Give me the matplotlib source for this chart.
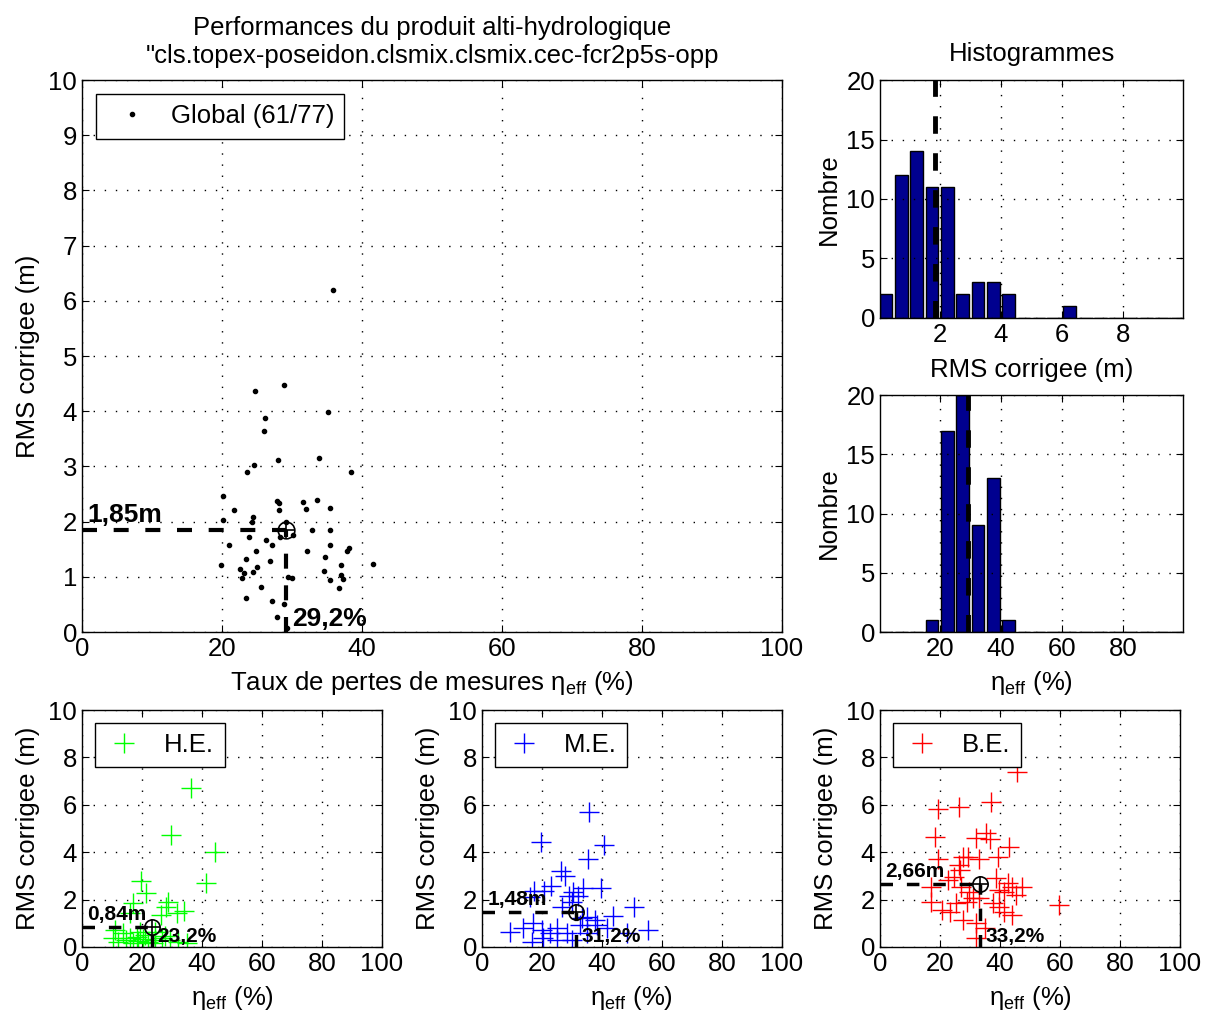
import numpy as np
import matplotlib
matplotlib.use("Agg")
import matplotlib.pyplot as plt

plt.rcParams['font.family'] = ['Liberation Sans', 'DejaVu Sans']
plt.rcParams['font.size'] = 18.5
plt.rcParams['mathtext.fontset'] = 'custom'
plt.rcParams['mathtext.rm'] = 'Liberation Sans'
plt.rcParams['mathtext.it'] = 'Liberation Sans:italic'

# Donnees globales (eta_eff en %, RMS corrigee en m)
glob_eta = [28.8, 24.7, 35.2, 26.2, 26.0, 33.9, 28.0, 24.6, 23.5, 38.4,
            20.1, 33.5, 27.9, 28.1, 31.5, 35.4, 21.7, 32.0, 28.2, 24.4,
            20.1, 24.3, 29.1, 30.2, 23.8, 32.9, 35.4, 28.3, 26.3, 21.0,
            27.1, 35.4, 24.9, 32.2, 38.1, 37.8, 34.7, 23.4, 26.8, 41.6,
            19.9, 37.0, 22.5, 25.0, 23.2, 24.4, 22.8, 34.5, 29.4, 30.0,
            37.0, 37.3, 35.4, 25.5, 36.7, 23.4, 27.1, 28.9, 27.8, 35.9,
            29.3]
glob_rms = [4.48, 4.36, 3.99, 3.87, 3.65, 3.16, 3.11, 3.03, 2.90, 2.90,
            2.46, 2.40, 2.37, 2.33, 2.36, 2.25, 2.21, 2.23, 2.21, 2.08,
            2.03, 1.99, 2.00, 1.76, 1.73, 1.84, 1.84, 1.72, 1.67, 1.58,
            1.58, 1.58, 1.47, 1.46, 1.53, 1.46, 1.36, 1.33, 1.28, 1.23,
            1.22, 1.22, 1.14, 1.17, 1.07, 1.09, 0.97, 1.11, 1.00, 0.97,
            1.03, 0.96, 0.94, 0.82, 0.80, 0.62, 0.57, 0.51, 0.27, 6.20,
            0.08]
glob_mean_eta, glob_mean_rms = 29.2, 1.85

# Histogrammes
rms_centers = [0.25, 0.75, 1.25, 1.75, 2.25, 2.75, 3.25, 3.75, 4.25, 4.75,
               5.25, 5.75, 6.25, 6.75, 7.25, 7.75, 8.25, 8.75, 9.25, 9.75]
rms_counts = [2, 12, 14, 11, 11, 2, 3, 3, 2, 0, 0, 0, 1, 0, 0, 0, 0, 0, 0, 0]
eta_centers = [2.5, 7.5, 12.5, 17.5, 22.5, 27.5, 32.5, 37.5, 42.5, 47.5,
               52.5, 57.5, 62.5, 67.5, 72.5, 77.5, 82.5, 87.5, 92.5, 97.5]
eta_counts = [0, 0, 0, 1, 17, 20, 9, 13, 1, 0, 0, 0, 0, 0, 0, 0, 0, 0, 0, 0]

# H.E.
he_eta = [36.3, 29.6, 44.2, 19.5, 41.4, 21.3, 16.9, 28.6, 28.0, 34.1,
          31.8, 26.2, 16.0, 11.0, 13.8, 10.4, 16.0, 18.2, 20.4, 22.1,
          24.3, 26.6, 29.3, 32.1, 34.9, 12.1, 17.1, 19.3, 24.3, 21.0,
          14.5, 18.8, 23.5, 27.5]
he_rms = [6.70, 4.73, 4.00, 2.80, 2.72, 2.29, 1.87, 1.89, 1.67, 1.53,
          1.42, 1.35, 1.42, 0.72, 0.58, 0.37, 0.37, 0.44, 0.32, 0.22,
          0.30, 0.37, 0.30, 0.22, 0.16, 0.22, 0.16, 0.65, 0.65, 0.50,
          0.30, 0.25, 0.15, 0.45]
he_mean_eta, he_mean_rms = 23.2, 0.84

# M.E.
me_eta = [35.8, 19.7, 40.7, 35.2, 26.3, 27.7, 23.0, 20.8, 17.4, 16.0,
          30.2, 33.8, 39.7, 29.1, 32.1, 26.6, 29.9, 50.8, 43.8, 34.9,
          37.7, 33.2, 55.2, 9.3, 16.6, 13.8, 17.1, 19.9, 22.7, 24.9,
          28.2, 34.9, 38.2, 41.6, 48.2, 24.9, 20.4, 32.7, 29.9]
me_rms = [5.71, 4.44, 4.30, 3.70, 3.21, 3.00, 2.57, 2.36, 2.36, 2.12,
          2.33, 2.50, 2.50, 2.15, 2.15, 1.70, 1.91, 1.70, 1.31, 1.28,
          1.14, 1.21, 0.72, 0.65, 0.22, 0.79, 1.00, 0.72, 0.58, 0.79,
          0.58, 0.58, 0.93, 0.79, 0.58, 0.30, 0.37, 0.93, 0.30]
me_mean_eta, me_mean_rms = 31.2, 1.48

# B.E.
be_eta = [45.8, 37.0, 26.3, 19.3, 18.2, 35.3, 32.0, 36.8, 43.0, 19.3,
          27.6, 29.2, 33.1, 39.2, 26.3, 26.5, 24.8, 22.6, 17.1, 17.1,
          27.1, 29.8, 30.9, 33.1, 37.5, 39.7, 41.4, 44.1, 47.4, 45.3,
          59.6, 23.2, 27.6, 35.1, 31.9, 41.3, 44.0, 39.7, 29.1, 31.9,
          25.4, 20.5, 38.6, 42.5]
be_rms = [7.40, 6.10, 5.92, 5.81, 4.65, 4.80, 4.59, 4.54, 4.23, 3.70,
          3.81, 3.81, 3.70, 3.78, 3.46, 3.25, 2.97, 2.83, 2.54, 1.91,
          2.54, 2.33, 2.05, 2.05, 1.84, 2.41, 2.33, 2.54, 2.54, 2.19,
          1.77, 1.49, 1.14, 0.79, 0.37, 1.49, 1.35, 1.70, 1.91, 1.00,
          1.84, 1.56, 2.90, 2.69]
be_mean_eta, be_mean_rms = 33.2, 2.66

DASH = (3.6, 4.0)
BAR_COLOR = '#00008F'
ETA_LABEL = 'η$_{\\mathrm{eff}}$ (%)'


def style_axes(ax):
    ax.grid(True, linestyle=(0, (1, 7)), color='black', linewidth=1.0)
    ax.tick_params(direction='in', top=True, right=True, length=5, width=0.8)
    for s in ax.spines.values():
        s.set_linewidth(1.0)


def draw_mean(ax, m_eta, m_rms, lw, msize, fsize, lab_rms, lab_eta):
    ax.plot([0, m_eta], [m_rms, m_rms], color='black', lw=lw, dashes=DASH)
    ax.plot([m_eta, m_eta], [0, m_rms], color='black', lw=lw, dashes=DASH)
    ax.plot(m_eta, m_rms, 'o', mfc='none', mec='black', ms=msize, mew=1.2)
    ax.plot(m_eta, m_rms, '+', color='black', ms=msize, mew=1.2)
    ax.annotate(lab_rms, (0, m_rms), xytext=(4, 2), textcoords='offset points',
                fontsize=fsize, fontweight='bold', ha='left', va='bottom')
    ax.annotate(lab_eta, (m_eta, 0), xytext=(4, 1), textcoords='offset points',
                fontsize=fsize, fontweight='bold', ha='left', va='bottom')


fig = plt.figure(figsize=(12.08, 10.14), dpi=100)

# Graphique principal
ax = fig.add_axes([0.0679, 0.3767, 0.5795, 0.5444])
ax.plot(glob_eta, glob_rms, '.', color='black', ms=6, label='Global (61/77)')
draw_mean(ax, glob_mean_eta, glob_mean_rms, 3.0, 12, 19, '1,85m', '29,2%')
ax.set_xlim(0, 100)
ax.set_ylim(0, 10)
ax.set_xticks(range(0, 101, 20))
ax.set_yticks(range(0, 11))
style_axes(ax)
ax.set_xlabel('Taux de pertes de mesures ' + ETA_LABEL, labelpad=6)
ax.set_ylabel('RMS corrigee (m)', labelpad=6)
ax.set_title('Performances du produit alti-hydrologique\n'
             '"cls.topex-poseidon.clsmix.clsmix.cec-fcr2p5s-opp', pad=12,
             fontsize=18.5, linespacing=1.25)
ax.legend(loc='upper left', fancybox=False, edgecolor='black', framealpha=1,
          handlelength=2.0, handletextpad=0.5, borderaxespad=0.55)

# Histogramme RMS
axh1 = fig.add_axes([0.7285, 0.6864, 0.2508, 0.2347])
axh1.bar(rms_centers, rms_counts, width=0.41, color=BAR_COLOR, edgecolor='black',
         linewidth=1)
axh1.plot([glob_mean_rms, glob_mean_rms], [0, 20], color='black', lw=3.5, dashes=DASH)
axh1.set_xlim(0.05, 9.95)
axh1.set_ylim(0, 20)
axh1.set_xticks([2, 4, 6, 8])
axh1.set_yticks([0, 5, 10, 15, 20])
style_axes(axh1)
axh1.set_xlabel('RMS corrigee (m)', labelpad=8)
axh1.set_ylabel('Nombre')
axh1.set_title('Histogrammes', pad=14, fontsize=18.5)

# Histogramme eta
axh2 = fig.add_axes([0.7285, 0.3767, 0.2508, 0.2337])
axh2.bar(eta_centers, eta_counts, width=4.1, color=BAR_COLOR, edgecolor='black',
         linewidth=1)
axh2.plot([glob_mean_eta, glob_mean_eta], [0, 20], color='black', lw=3.5, dashes=DASH)
axh2.set_xlim(0.5, 99.5)
axh2.set_ylim(0, 20)
axh2.set_xticks([20, 40, 60, 80])
axh2.set_yticks([0, 5, 10, 15, 20])
style_axes(axh2)
axh2.set_xlabel(ETA_LABEL, labelpad=6)
axh2.set_ylabel('Nombre')

# Sous-graphiques par classe
subsets = [
    (0.0679, he_eta, he_rms, '#00FF00', 'H.E.', he_mean_eta, he_mean_rms, '0,84m', '23,2%'),
    (0.3990, me_eta, me_rms, '#0000FF', 'M.E.', me_mean_eta, me_mean_rms, '1,48m', '31,2%'),
    (0.7285, be_eta, be_rms, '#FF0000', 'B.E.', be_mean_eta, be_mean_rms, '2,66m', '33,2%'),
]
for left, eta, rms, col, lab, m_eta, m_rms, t_rms, t_eta in subsets:
    a = fig.add_axes([left, 0.0661, 0.2483, 0.2337])
    a.plot(eta, rms, '+', color=col, ms=14, mew=1.0, label=lab)
    draw_mean(a, m_eta, m_rms, 2.5, 11, 15, t_rms, t_eta)
    a.set_xlim(0, 100)
    a.set_ylim(0, 10)
    a.set_xticks(range(0, 101, 20))
    a.set_yticks(range(0, 11, 2))
    style_axes(a)
    a.set_xlabel(ETA_LABEL, labelpad=6)
    a.set_ylabel('RMS corrigee (m)', labelpad=6)
    a.legend(loc='upper left', fancybox=False, edgecolor='black', framealpha=1,
             handlelength=1.5, borderaxespad=0.5)

fig.savefig('out.png', dpi=100)
